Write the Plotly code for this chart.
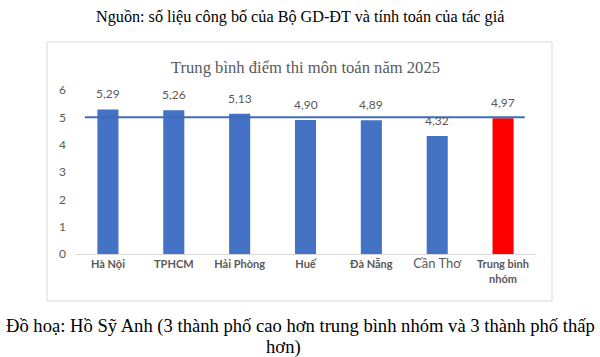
import plotly.graph_objects as go

categories = ["Hà Nội", "TPHCM", "Hải Phòng", "Huế", "Đà Nẵng", "Cần Thơ", "Trung bình nhóm"]
scores = [5.29, 5.26, 5.13, 4.90, 4.89, 4.32, 4.97]
tick_labels = ["<b>Hà Nội</b>", "<b>TPHCM</b>", "<b>Hải Phòng</b>", "<b>Huế</b>", "<b>Đà Nẵng</b>",
               "<span style='font-size:13px'>Cần Thơ</span>", "<b>Trung bình<br>nhóm</b>"]
reference_value = 5
y_ticks = [0, 1, 2, 3, 4, 5, 6]

chart_title = "Trung bình điểm thi môn toán năm 2025"
source_text = "Nguồn: số liệu công bố của Bộ GD-ĐT và tính toán của tác giả"
caption_1 = "Đồ hoạ: Hồ Sỹ Anh (3 thành phố cao hơn trung bình nhóm và 3 thành phố thấp"
caption_2 = "hơn)"

BLUE = "#4472C4"
RED = "#FF0000"
GREY = "#595959"
SANS = "Lato, 'Open Sans', sans-serif"
SERIF = "'Liberation Serif', 'Times New Roman', serif"

colors = [RED if c == "Trung bình nhóm" else BLUE for c in categories]

fig = go.Figure()
fig.add_trace(go.Bar(
    x=categories, y=scores, marker=dict(color=colors, line=dict(width=0)),
    hoverinfo="x+y",
))

annotations = []
for c, v in zip(categories, scores):
    annotations.append(dict(
        x=c, y=v, xref="x", yref="y", text=f"{v:.2f}".replace(".", ","),
        showarrow=False, yanchor="bottom", yshift=6,
        font=dict(family=SANS, size=12, color=GREY),
    ))

# paper-coordinate conversions based on plot area (75..536 px, 90..254 px)
PL, PR, PT, PB = 75, 536, 90, 254
def px_x(p):
    return (p - PL) / (PR - PL)
def px_y(p):
    return (PB - p) / (PB - PT)

annotations.append(dict(x=px_x(300), y=px_y(17), xref="paper", yref="paper", text=source_text,
                        showarrow=False, xanchor="center", yanchor="middle",
                        font=dict(family=SERIF, size=16.2, color="#000000")))
annotations.append(dict(x=px_x(300), y=px_y(326), xref="paper", yref="paper", text=caption_1,
                        showarrow=False, xanchor="center", yanchor="middle",
                        font=dict(family=SERIF, size=18.6, color="#000000")))
annotations.append(dict(x=px_x(283), y=px_y(347), xref="paper", yref="paper", text=caption_2,
                        showarrow=False, xanchor="center", yanchor="middle",
                        font=dict(family=SERIF, size=18.6, color="#000000")))

shapes = [
    dict(type="rect", xref="paper", yref="paper", x0=px_x(47), x1=px_x(552), y0=px_y(301), y1=px_y(42),
         line=dict(color="#D9D9D9", width=1), fillcolor="rgba(0,0,0,0)", layer="below"),
    dict(type="line", xref="x", yref="y", x0=-0.35, x1=len(categories) - 1 + 0.33,
         y0=reference_value, y1=reference_value, line=dict(color="#3E6DB5", width=2)),
]

fig.update_layout(
    width=600, height=357,
    margin=dict(l=PL, r=600 - PR, t=PT, b=357 - PB),
    paper_bgcolor="white", plot_bgcolor="white",
    showlegend=False,
    bargap=0.68,
    title=dict(text=chart_title, x=0.5, xref="paper", xanchor="center", y=1 - 67 / 357, yanchor="middle",
               font=dict(family=SERIF, size=16.6, color=GREY)),
    annotations=annotations,
    shapes=shapes,
    xaxis=dict(
        tickmode="array", tickvals=categories, ticktext=tick_labels,
        tickfont=dict(family=SANS, size=11, color=GREY),
        showline=True, linecolor="#D9D9D9", linewidth=1, ticks="", showgrid=False,
        fixedrange=True,
    ),
    yaxis=dict(
        range=[0, 6], tickvals=y_ticks, showgrid=False, zeroline=False, showline=False,
        tickfont=dict(family=SANS, size=12, color=GREY), ticks="", ticklabelstandoff=8,
        fixedrange=True,
    ),
)
fig.update_xaxes(automargin=False)
fig.update_yaxes(automargin=False)

fig.write_html("out.html", config={"displayModeBar": False},
               post_script="document.body.style.margin='0';document.body.style.overflow='hidden';")
